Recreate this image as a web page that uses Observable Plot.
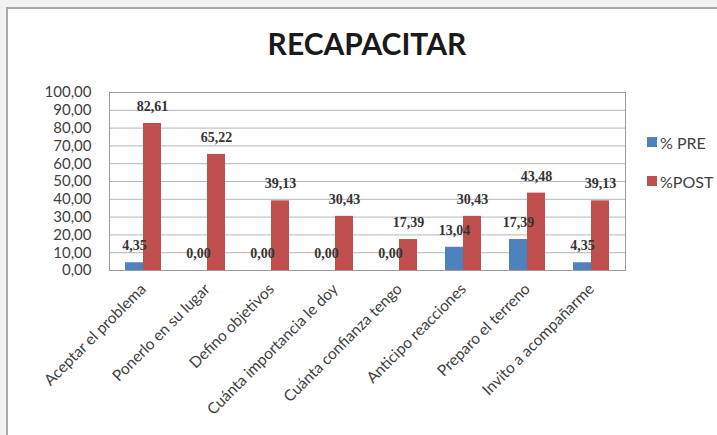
<!DOCTYPE html>
<html>
<head>
<meta charset="utf-8">
<script src="https://cdn.jsdelivr.net/npm/d3@7"></script>
<script src="https://cdn.jsdelivr.net/npm/@observablehq/plot@0.6"></script>
<style>
  html, body { margin: 0; padding: 0; background: #f2f2f2; }
  #wrap { position: relative; width: 717px; height: 435px; overflow: hidden; }
  #panel { position: absolute; left: 6px; top: 7px; width: 720px; height: 440px; background: #fff;
           border-top: 2px solid #a9a9a9; border-left: 2px solid #a9a9a9; box-sizing: border-box; }
  #title { position: absolute; left: 0; width: 734px; top: 25px; text-align: center;
           font-family: Lato, sans-serif; font-weight: bold; font-size: 30px; color: #1a1a1a; }
  #chart { position: absolute; left: 0; top: 0; }
  #legend { position: absolute; left: 647px; top: 132px; font-family: Lato, sans-serif; font-size: 16px; color: #404040; white-space: nowrap; }
  .li { display: flex; align-items: center; height: 20px; margin-bottom: 19px; }
  .sw { width: 10px; height: 10px; margin-right: 3px; }
</style>
</head>
<body>
<div id="wrap">
  <div id="panel"></div>
  <div id="title">RECAPACITAR</div>
  <div id="chart"></div>
  <div id="legend"></div>
</div>
<script>
const categories = ["Aceptar el problema", "Ponerlo en su lugar", "Defino objetivos", "Cuánta importancia le doy", "Cuánta confianza tengo", "Anticipo reacciones", "Preparo el terreno", "Invito a acompañarme"];
const series = ["% PRE", "%POST"];
const preValues = [4.35, 0.00, 0.00, 0.00, 0.00, 13.04, 17.39, 4.35];
const postValues = [82.61, 65.22, 39.13, 30.43, 17.39, 30.43, 43.48, 39.13];
const yTicks = [0, 10, 20, 30, 40, 50, 60, 70, 80, 90, 100];
const colors = ["#4f81bd", "#c0504d"];

const fmt = d => d.toFixed(2).replace(".", ",");

const preRows = categories.map((c, i) => ({cat: c, series: series[0], value: preValues[i]}));
const postRows = categories.map((c, i) => ({cat: c, series: series[1], value: postValues[i]}));

const W = 717, H = 435, mL = 109, mR = 92, mT = 92, mB = 165;
const pIn = 0.442;
const step = (W - mL - mR) / categories.length;
const bw = step * (1 - pIn);

const chart = Plot.plot({
  width: W, height: H,
  marginLeft: mL, marginRight: mR, marginTop: mT, marginBottom: mB,
  style: {background: "transparent", fontFamily: "Lato, sans-serif", overflow: "visible"},
  x: {domain: categories, paddingInner: pIn, paddingOuter: pIn / 2, axis: null, label: null},
  y: {domain: [0, 100], axis: null, label: null},
  color: {domain: series, range: colors},
  marks: [
    Plot.gridY(yTicks, {stroke: "#b5b5b5", strokeOpacity: 1}),
    Plot.barY(preRows, {x: "cat", y: "value", fill: "series", insetRight: bw / 2}),
    Plot.barY(postRows, {x: "cat", y: "value", fill: "series", insetLeft: bw / 2}),
    Plot.frame({stroke: "#9a9a9a"}),
    Plot.axisY(yTicks, {tickSize: 0, tickPadding: 18, tickFormat: fmt, fontSize: 15, color: "#3f3f3f", label: null}),
    Plot.axisX({tickSize: 0, tickPadding: 16, tickRotate: -45, fontSize: 15.5, color: "#3f3f3f", label: null}),
    Plot.text(preRows, {x: "cat", y: "value", text: d => fmt(d.value), dx: -bw / 4, dy: -17,
      fontFamily: "Liberation Serif, serif", fontWeight: "bold", fontSize: 14, fill: "#333"}),
    Plot.text(postRows, {x: "cat", y: "value", text: d => fmt(d.value), dx: bw / 4, dy: -17,
      fontFamily: "Liberation Serif, serif", fontWeight: "bold", fontSize: 14, fill: "#333"})
  ]
});
document.getElementById("chart").appendChild(chart);

const legend = document.getElementById("legend");
series.forEach((s, i) => {
  const row = document.createElement("div");
  row.className = "li";
  const sw = document.createElement("span");
  sw.className = "sw";
  sw.style.background = colors[i];
  const t = document.createElement("span");
  t.textContent = s;
  row.appendChild(sw); row.appendChild(t);
  legend.appendChild(row);
});
</script>
</body>
</html>
